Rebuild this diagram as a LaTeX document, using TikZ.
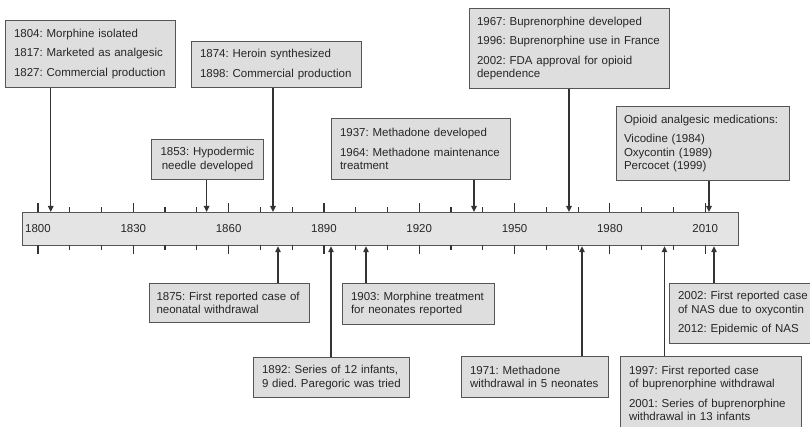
\documentclass[tikz,border=0pt]{standalone}
\usepackage{fontspec}
\setmainfont{Liberation Sans}
\usetikzlibrary{arrows.meta}
\definecolor{boxfill}{HTML}{DEDEDE}
\definecolor{boxline}{HTML}{555555}
\definecolor{barfill}{HTML}{E4E4E4}
\definecolor{ink}{HTML}{333333}
\newcommand{\tlfont}{\frenchspacing\fontsize{11.5pt}{13.5pt}\selectfont}
\begin{document}
\begin{tikzpicture}[x=1pt,y=-1pt,
  evbox/.style={draw=boxline, fill=boxfill, line width=1pt, inner xsep=8.5pt, inner ysep=3pt, align=left, font=\tlfont, anchor=north west, text=black!85},
  tlbar/.style={draw=boxline, fill=barfill, line width=1.2pt, inner sep=0pt, anchor=north west},
  tickln/.style={draw=ink, line width=1.2pt},
  conn/.style={draw=ink, line width=1.3pt, -{Triangle[length=6pt,width=5.5pt]}},
  yearlab/.style={font=\tlfont, text=black!85, inner sep=0pt}
]
\useasboundingbox (0,0) rectangle (810,427);
\fill[white] (0,0) rectangle (810,427);
\clip (0,0) rectangle (810,427);

% timeline bar
\node[tlbar, minimum width=716pt, minimum height=33pt] (bar) at (22,212) {};

% ticks
\foreach \i in {0,...,21} {
  \pgfmathsetmacro{\tx}{38+\i*31.77}
  \pgfmathtruncatemacro{\md}{mod(\i,3)}
  \ifnum\md=0
    \draw[tickln] (\tx,212) -- ++(0,-9);
    \draw[tickln] (\tx,245) -- ++(0,9);
  \else
    \draw[tickln] (\tx,212) -- ++(0,-5);
    \draw[tickln] (\tx,245) -- ++(0,5);
  \fi
}

% year labels
\foreach \k in {0,...,7} {
  \pgfmathsetmacro{\lx}{38+\k*95.31}
  \pgfmathtruncatemacro{\yr}{1800+30*\k}
  \node[yearlab] (lab\k) at (\lx,228.5) {\yr};
}

% upper boxes
\node[evbox, text width=153pt, minimum height=67pt] (A) at (5,20)
  {1804: Morphine isolated\\[6pt]1817: Marketed as analgesic\\[6pt]1827: Commercial production};
\node[evbox, text width=153pt, minimum height=46pt] (B) at (191,41)
  {1874: Heroin synthesized\\[6pt]1898: Commercial production};
\node[evbox, text width=95pt, minimum height=40pt, align=center] (C) at (151,139)
  {1853: Hypodermic\\needle developed};
\node[evbox, text width=162pt, minimum height=61pt] (D) at (331,118)
  {1937: Methadone developed\\[6pt]1964: Methadone maintenance\\treatment};
\node[evbox, inner xsep=7.5pt, text width=185pt, minimum height=80pt] (E) at (469,8)
  {1967: Buprenorphine developed\\[6pt]1996: Buprenorphine use in France\\[6pt]2002: FDA approval for opioid\\dependence};
\node[evbox, inner xsep=7.5pt, text width=158pt, minimum height=74pt] (F) at (616,106)
  {Opioid analgesic medications:\\[6pt]Vicodine (1984)\\Oxycontin (1989)\\Percocet (1999)};

% lower boxes
\node[evbox, inner xsep=7pt, text width=146pt, minimum height=39pt] (G) at (149,283)
  {1875: First reported case of\\neonatal withdrawal};
\node[evbox, text width=139pt, minimum height=40pt] (H) at (253,357)
  {1892: Series of 12 infants,\\9 died. Paregoric was tried};
\node[evbox, text width=135pt, minimum height=41pt] (I) at (342,283)
  {1903: Morphine treatment\\for neonates reported};
\node[evbox, text width=130pt, minimum height=41pt] (J) at (461,356)
  {1971: Methadone\\withdrawal in 5 neonates};
\node[evbox, text width=164pt, minimum height=74pt] (K) at (620,356)
  {1997: First reported case\\of buprenorphine withdrawal\\[6pt]2001: Series of buprenorphine\\withdrawal in 13 infants};
\node[evbox, text width=136pt, minimum height=60pt] (L) at (669,283)
  {2002: First reported case\\of NAS due to oxycontin\\[6pt]2012: Epidemic of NAS};

% event positions
\coordinate (x1804) at (50.7,0);
\coordinate (x1853) at (206.6,0);
\coordinate (x1874) at (273,0);
\coordinate (x1937) at (474,0);
\coordinate (x1967) at (569,0);
\coordinate (x2011) at (709,0);
\coordinate (x1875) at (278,0);
\coordinate (x1892) at (331,0);
\coordinate (x1903) at (366,0);
\coordinate (x1971) at (582,0);
\coordinate (x1997) at (664.5,0);
\coordinate (x2012) at (714,0);

% connectors
\draw[conn] (A.south -| x1804) -- (bar.north -| x1804);
\draw[conn] (C.south -| x1853) -- (bar.north -| x1853);
\draw[conn] (B.south -| x1874) -- (bar.north -| x1874);
\draw[conn] (D.south -| x1937) -- (bar.north -| x1937);
\draw[conn] (E.south -| x1967) -- (bar.north -| x1967);
\draw[conn] (F.south -| x2011) -- (bar.north -| x2011);
\draw[conn] (G.north -| x1875) -- (bar.south -| x1875);
\draw[conn] (H.north -| x1892) -- (bar.south -| x1892);
\draw[conn] (I.north -| x1903) -- (bar.south -| x1903);
\draw[conn] (J.north -| x1971) -- (bar.south -| x1971);
\draw[conn] (K.north -| x1997) -- (bar.south -| x1997);
\draw[conn] (L.north -| x2012) -- (bar.south -| x2012);
\end{tikzpicture}
\end{document}
